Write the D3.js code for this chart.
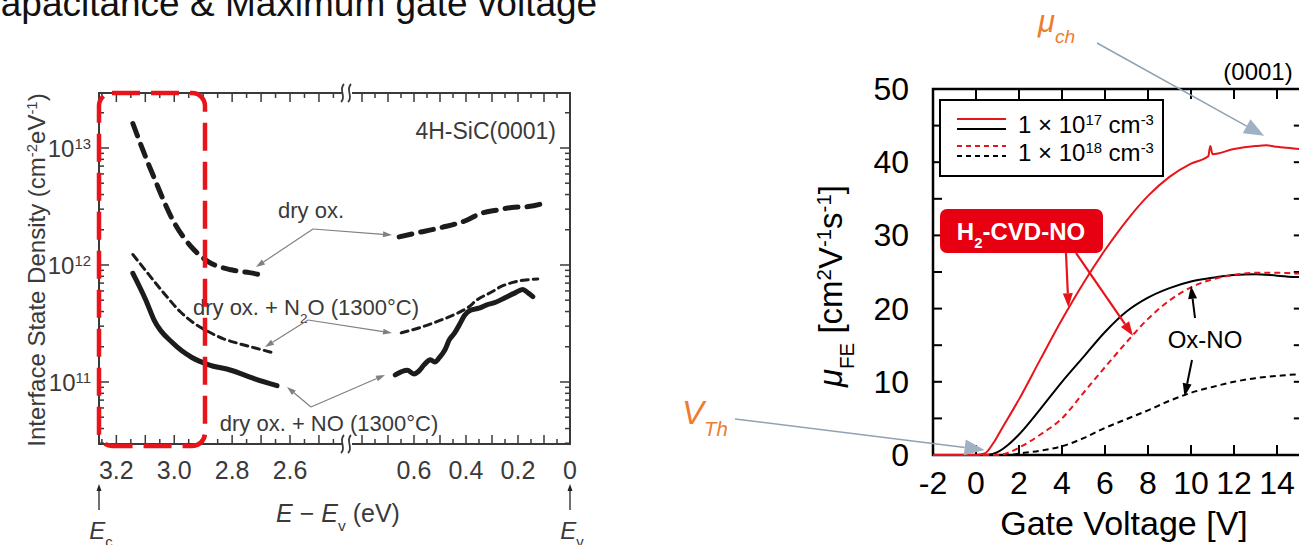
<!DOCTYPE html>
<html><head><meta charset="utf-8">
<script src="https://cdn.jsdelivr.net/npm/d3@7"></script>
<style>body{margin:0;background:#fff;} svg{display:block;font-family:"Liberation Sans",Arial,sans-serif;}</style>
</head><body><svg id="c" width="1299" height="545"></svg>
<script>
// ---------------- DATA ----------------
// Left chart: interface state density vs E - Ev (two segments of a broken axis)
const leftXTicksA = [3.2, 3.0, 2.8, 2.6];
const leftXTicksB = [0.6, 0.4, 0.2, 0];
const leftYTicks = [1e11, 1e12, 1e13];

const dryOxA_E = [3.143, 3.10, 3.07, 3.004, 2.939, 2.883, 2.804, 2.74, 2.686];
const dryOxA_D = [1.62e13, 8.5e12, 5.6e12, 2.4e12, 1.41e12, 1.07e12, 9.1e11, 8.6e11, 8.1e11];
const dryOxB_E = [0.657, 0.60, 0.495, 0.40, 0.344, 0.28, 0.224, 0.16, 0.093];
const dryOxB_D = [1.74e12, 1.86e12, 2.09e12, 2.4e12, 2.75e12, 2.95e12, 3.1e12, 3.16e12, 3.4e12];

const n2oA_E = [3.143, 3.098, 3.032, 2.98, 2.93, 2.883, 2.83, 2.78, 2.72, 2.659];
const n2oA_D = [1.23e12, 8.9e11, 5.6e11, 4.0e11, 3.16e11, 2.7e11, 2.34e11, 2.14e11, 1.95e11, 1.78e11];
const n2oB_E = [0.649, 0.57, 0.495, 0.43, 0.39, 0.359, 0.30, 0.27, 0.22, 0.18, 0.124];
const n2oB_D = [2.63e11, 2.95e11, 3.39e11, 3.9e11, 4.37e11, 5.0e11, 5.9e11, 6.46e11, 7.1e11, 7.4e11, 7.6e11];

const noA_E = [3.143, 3.098, 3.07, 3.004, 2.939, 2.883, 2.804, 2.724, 2.645];
const noA_D = [8.5e11, 5.0e11, 3.4e11, 2.14e11, 1.62e11, 1.41e11, 1.26e11, 1.07e11, 9.3e10];
const noB_E = [0.672, 0.626, 0.60, 0.583, 0.56, 0.537, 0.52, 0.502, 0.48, 0.464, 0.445, 0.425, 0.406, 0.383, 0.35, 0.32, 0.286, 0.25, 0.213, 0.182, 0.16, 0.143];
const noB_D = [1.15e11, 1.26e11, 1.17e11, 1.23e11, 1.41e11, 1.55e11, 1.48e11, 1.62e11, 1.9e11, 2.3e11, 2.6e11, 3.1e11, 3.7e11, 4.1e11, 4.27e11, 4.57e11, 4.8e11, 5.25e11, 5.75e11, 6.17e11, 5.75e11, 5.37e11];

// Right chart: field-effect mobility vs gate voltage
const rightXTicks = [-2, 0, 2, 4, 6, 8, 10, 12, 14];
const rightYTicks = [0, 10, 20, 30, 40, 50];

const redSolidV  = [-2, -1, 0, 0.4, 0.8, 1.2, 2, 3, 4, 5, 6, 7, 8, 9, 10, 10.8, 10.9, 11, 12, 13, 13.5, 14, 15, 15.2];
const redSolidMu = [0, 0, 0, 0.2, 1.6, 3.6, 7.6, 13.1, 18.5, 23.5, 28, 32, 35.4, 38, 39.8, 40.8, 42.2, 41.1, 41.8, 42.2, 42.3, 42.1, 41.8, 41.7];
const blackSolidV  = [-2, 0, 0.5, 1, 1.5, 2, 3, 4, 5, 6, 7, 8, 9, 10, 11, 12, 13, 14, 15, 15.2];
const blackSolidMu = [0, 0, 0, 0.4, 1.4, 2.8, 6.3, 10, 13.4, 16.8, 19.6, 21.5, 22.8, 23.7, 24.2, 24.6, 24.7, 24.5, 24.3, 24.3];
const redDashV  = [-2, 0, 1, 1.5, 2, 3, 4, 5, 6, 7, 8, 9, 10, 11, 12, 13, 14, 15, 15.2];
const redDashMu = [0, 0, 0, 0.3, 1, 2.8, 5, 8.5, 12, 15.4, 18.6, 21.1, 22.9, 24, 24.6, 24.9, 24.9, 24.8, 24.8];
const blackDashV  = [-2, 1, 1.5, 2, 3, 4, 5, 6, 7, 8, 9, 10, 11, 12, 13, 14, 15, 15.2];
const blackDashMu = [0, 0, 0, 0.2, 0.6, 1.2, 2.3, 3.7, 4.9, 6.1, 7.4, 8.5, 9.3, 10, 10.5, 10.8, 11, 11];

// ---------------- DRAW ----------------
const svg = d3.select('#c');
svg.append('rect').attr('width', 1299).attr('height', 545).attr('fill', '#fff');

function rich(sel, parts, size) {
  parts.forEach(p => {
    const t = sel.append('tspan').text(p.t);
    if (p.sup) t.attr('baseline-shift', 'super').attr('font-size', size * 0.62);
    if (p.sub) t.attr('baseline-shift', 'sub').attr('font-size', size * 0.62);
    if (p.it) t.attr('font-style', 'italic');
  });
  return sel;
}
function arrow(g, x1, y1, x2, y2, color, w, hl, hw, fillColor) {
  const a = Math.atan2(y2 - y1, x2 - x1);
  const bx = x2 - hl * Math.cos(a), by = y2 - hl * Math.sin(a);
  g.append('line').attr('x1', x1).attr('y1', y1).attr('x2', bx).attr('y2', by)
    .attr('stroke', color).attr('stroke-width', w);
  const px = -Math.sin(a) * hw / 2, py = Math.cos(a) * hw / 2;
  g.append('path').attr('d', `M${x2},${y2}L${bx + px},${by + py}L${bx - px},${by - py}Z`)
    .attr('fill', fillColor || color);
}

// Title (cut off at top-left, as in the slide)
svg.append('text').attr('x', -26).attr('y', 16).attr('font-size', 37).attr('fill', '#111')
  .text('Capacitance & Maximum gate voltage');

// ===== LEFT CHART =====
const L = svg.append('g');
const xA = d3.scaleLinear().domain([3.26, 2.41]).range([99, 345]);
const xB = d3.scaleLinear().domain([0.85, 0]).range([349, 570]);
const yL = d3.scaleLog().domain([Math.pow(10, 10.47), Math.pow(10, 13.47)]).range([444, 93]);
const lt = '#3a3a3a';

L.append('rect').attr('x', 99).attr('y', 93).attr('width', 471).attr('height', 351)
  .attr('fill', 'none').attr('stroke', lt).attr('stroke-width', 2);

// y ticks (log)
for (let e = 10; e <= 13; e++) {
  for (let m = 1; m <= 9; m++) {
    const v = m * Math.pow(10, e);
    if (v < yL.domain()[0] || v > yL.domain()[1]) continue;
    const len = m === 1 ? 10 : 5, y = yL(v);
    L.append('line').attr('x1', 99).attr('x2', 99 + len).attr('y1', y).attr('y2', y).attr('stroke', lt).attr('stroke-width', 1.5);
    L.append('line').attr('x1', 570).attr('x2', 570 - len).attr('y1', y).attr('y2', y).attr('stroke', lt).attr('stroke-width', 1.5);
  }
}
// x ticks
function xt(scale, from, to) {
  for (let k = Math.round(from * 20); k >= Math.round(to * 20); k--) {
    const E = k / 20, x = scale(E), len = (k % 2 === 0) ? 9 : 5;
    L.append('line').attr('x1', x).attr('x2', x).attr('y1', 444).attr('y2', 444 - len).attr('stroke', lt).attr('stroke-width', 1.5);
    L.append('line').attr('x1', x).attr('x2', x).attr('y1', 93).attr('y2', 93 + len).attr('stroke', lt).attr('stroke-width', 1.5);
  }
}
xt(xA, 3.25, 2.45);
xt(xB, 0.80, 0.05);
// axis breaks
[93, 444].forEach(y => {
  L.append('rect').attr('x', 342).attr('y', y - 3).attr('width', 10).attr('height', 6).attr('fill', '#fff');
  [341, 348].forEach(x0 => {
    L.append('path').attr('d', `M${x0},${y + 9} C${x0 + 6},${y + 4} ${x0 - 3},${y - 3} ${x0 + 3},${y - 9}`)
      .attr('fill', 'none').attr('stroke', lt).attr('stroke-width', 1.8);
  });
});

// tick labels
const tf = 25;
leftXTicksA.forEach(t => L.append('text').attr('x', xA(t)).attr('y', 479).attr('text-anchor', 'middle')
  .attr('font-size', tf).attr('fill', lt).text(t.toFixed(1)));
leftXTicksB.forEach(t => L.append('text').attr('x', xB(t)).attr('y', 479).attr('text-anchor', 'middle')
  .attr('font-size', tf).attr('fill', lt).text(t === 0 ? '0' : t.toFixed(1)));
leftYTicks.forEach(t => {
  const tx = L.append('text').attr('x', 91).attr('y', yL(t) + 9).attr('text-anchor', 'end')
    .attr('font-size', 24).attr('fill', lt);
  rich(tx, [{ t: '10' }, { t: String(Math.round(Math.log10(t))), sup: true }], 24);
});

// axis titles
rich(L.append('text').attr('transform', 'translate(45,270) rotate(-90)').attr('text-anchor', 'middle')
  .attr('font-size', 24).attr('fill', lt),
  [{ t: 'Interface State Density (cm' }, { t: '-2', sup: true }, { t: 'eV' }, { t: '-1', sup: true }, { t: ')' }], 24);
rich(L.append('text').attr('x', 338).attr('y', 522).attr('text-anchor', 'middle').attr('font-size', 25).attr('fill', lt),
  [{ t: 'E', it: true }, { t: ' \u2212 ' }, { t: 'E', it: true }, { t: 'v', sub: true }, { t: ' (eV)' }], 25);
// Ec / Ev markers
[[xA(3.26), 'c'], [xB(0), 'v']].forEach(([x, s]) => {
  arrow(L, x, 510, x, 484, '#222', 1.3, 7, 5);
  rich(L.append('text').attr('x', x + 2).attr('y', 539).attr('text-anchor', 'middle').attr('font-size', 24).attr('fill', lt),
    [{ t: 'E', it: true }, { t: s, sub: true }], 24);
});

// curves
const lineL = (sc) => d3.line().x(d => sc(d[0])).y(d => yL(d[1])).curve(d3.curveMonotoneX);
const zip = (a, b) => a.map((v, i) => [v, b[i]]);
const curveCol = '#1c1c1c';
function lcurve(sc, E, D, w, dash) {
  L.append('path').attr('d', lineL(sc)(zip(E, D))).attr('fill', 'none').attr('stroke', curveCol)
    .attr('stroke-width', w).attr('stroke-dasharray', dash).attr('stroke-linecap', 'round');
}
lcurve(xA, dryOxA_E, dryOxA_D, 5, '13,9');
lcurve(xB, dryOxB_E, dryOxB_D, 5, '13,9');
lcurve(xA, n2oA_E, n2oA_D, 3, '7,5');
lcurve(xB, n2oB_E, n2oB_D, 3, '7,5');
lcurve(xA, noA_E, noA_D, 5, null);
lcurve(xB, noB_E, noB_D, 5, null);

// labels + gray arrows
L.append('text').attr('x', 556).attr('y', 139).attr('text-anchor', 'end').attr('font-size', 23).attr('fill', lt).text('4H-SiC(0001)');
L.append('text').attr('x', 311).attr('y', 218).attr('text-anchor', 'middle').attr('font-size', 22).attr('fill', lt).text('dry ox.');
rich(L.append('text').attr('x', 306).attr('y', 315).attr('text-anchor', 'middle').attr('font-size', 22).attr('fill', lt),
  [{ t: 'dry ox. + N' }, { t: '2', sub: true }, { t: 'O (1300\u00b0C)' }], 22);
L.append('text').attr('x', 329).attr('y', 431).attr('text-anchor', 'middle').attr('font-size', 22).attr('fill', lt).text('dry ox. + NO (1300\u00b0C)');
const ga = '#808080';
const grayArrows = [
  [313, 229, 256, 267], [313, 229, 392, 235],
  [308, 320, 265, 347], [308, 320, 392, 333],
  [311, 407, 287, 387], [311, 407, 385, 375]
];
grayArrows.forEach(a => arrow(L, a[0], a[1], a[2], a[3], ga, 1.2, 9, 6));

// red dashed highlight box
L.append('rect').attr('x', 99).attr('y', 93).attr('width', 106).attr('height', 353).attr('rx', 13)
  .attr('fill', 'none').attr('stroke', '#e8141b').attr('stroke-width', 4.5).attr('stroke-dasharray', '28,11');

// ===== RIGHT CHART =====
const R = svg.append('g');
const xR = d3.scaleLinear().domain([-2, 15.2]).range([933, 1302.8]);
const yR = d3.scaleLinear().domain([0, 50]).range([455, 89]);

R.append('rect').attr('x', 933).attr('y', 89).attr('width', xR(15.2) - 933).attr('height', 455 - 89)
  .attr('fill', 'none').attr('stroke', '#000').attr('stroke-width', 2.5);
for (let v = 5; v < 50; v += 5) {
  const y = yR(v);
  R.append('line').attr('x1', 933).attr('x2', 942).attr('y1', y).attr('y2', y).attr('stroke', '#000').attr('stroke-width', 2);
  R.append('line').attr('x1', xR(15.2)).attr('x2', xR(15.2) - 9).attr('y1', y).attr('y2', y).attr('stroke', '#000').attr('stroke-width', 2);
}
rightXTicks.slice(1).forEach(t => {
  const x = xR(t);
  R.append('line').attr('x1', x).attr('x2', x).attr('y1', 455).attr('y2', 445).attr('stroke', '#000').attr('stroke-width', 2);
  R.append('line').attr('x1', x).attr('x2', x).attr('y1', 89).attr('y2', 99).attr('stroke', '#000').attr('stroke-width', 2);
});
rightXTicks.forEach(t => R.append('text').attr('x', xR(t)).attr('y', 494).attr('text-anchor', 'middle')
  .attr('font-size', 32).attr('fill', '#000').text(String(t)));
rightYTicks.forEach(t => R.append('text').attr('x', 909).attr('y', yR(t) + 11).attr('text-anchor', 'end')
  .attr('font-size', 32).attr('fill', '#000').text(String(t)));
R.append('text').attr('x', 1124).attr('y', 535).attr('text-anchor', 'middle').attr('font-size', 34).text('Gate Voltage [V]');
rich(R.append('text').attr('transform', 'translate(842,286) rotate(-90)').attr('text-anchor', 'middle').attr('font-size', 33),
  [{ t: '\u03bc', it: true }, { t: 'FE', sub: true }, { t: ' [cm' }, { t: '2', sup: true }, { t: 'V' }, { t: '-1', sup: true }, { t: 's' }, { t: '-1', sup: true }, { t: ']' }], 33);
R.append('text').attr('x', 1258).attr('y', 80).attr('text-anchor', 'middle').attr('font-size', 24).text('(0001)');

const red = '#e8141b';
const lineR = d3.line().x(d => xR(d[0])).y(d => yR(d[1])).curve(d3.curveMonotoneX);
function rcurve(V, M, col, dash) {
  R.append('path').attr('d', lineR(zip(V, M))).attr('fill', 'none').attr('stroke', col)
    .attr('stroke-width', 2).attr('stroke-dasharray', dash);
}
rcurve(blackDashV, blackDashMu, '#000', '6,4');
rcurve(blackSolidV, blackSolidMu, '#000', null);
rcurve(redDashV, redDashMu, red, '6,4');
rcurve(redSolidV, redSolidMu, red, null);

// legend
R.append('rect').attr('x', 940).attr('y', 100).attr('width', 223).attr('height', 76)
  .attr('fill', '#fff').attr('stroke', '#000').attr('stroke-width', 2);
[[119, red, null], [129, '#000', null], [146, red, '5,4'], [156, '#000', '5,4']].forEach(([y, c, d]) => {
  R.append('line').attr('x1', 957).attr('x2', 1006).attr('y1', y).attr('y2', y).attr('stroke', c).attr('stroke-width', 2).attr('stroke-dasharray', d);
});
rich(R.append('text').attr('x', 1018).attr('y', 133).attr('font-size', 24),
  [{ t: '1 \u00d7 10' }, { t: '17', sup: true }, { t: ' cm' }, { t: '-3', sup: true }], 24);
rich(R.append('text').attr('x', 1018).attr('y', 161).attr('font-size', 24),
  [{ t: '1 \u00d7 10' }, { t: '18', sup: true }, { t: ' cm' }, { t: '-3', sup: true }], 24);

// H2-CVD-NO label and arrows
R.append('rect').attr('x', 940).attr('y', 209).attr('width', 163).attr('height', 44).attr('rx', 7).attr('fill', '#e60012');
rich(R.append('text').attr('x', 1021).attr('y', 240).attr('text-anchor', 'middle').attr('font-size', 24)
  .attr('font-weight', 'bold').attr('fill', '#fff'), [{ t: 'H' }, { t: '2', sub: true }, { t: '-CVD-NO' }], 24);
arrow(R, 1066, 253, xR(4.3), yR(20.2), red, 2.2, 14, 10);
arrow(R, 1076, 253, xR(7.3), yR(16.3), red, 2.2, 14, 10);
R.append('text').attr('x', 1205).attr('y', 348).attr('text-anchor', 'middle').attr('font-size', 24).text('Ox-NO');
arrow(R, 1195, 318, xR(10), yR(23.1), '#000', 2, 13, 9);
arrow(R, 1192, 360, xR(9.7), yR(8.0), '#000', 2, 13, 9);

// ===== ANNOTATIONS (orange) =====
const orange = '#ed7d31', steel = '#8fa2b4';
rich(svg.append('text').attr('x', 1038).attr('y', 32).attr('font-size', 31).attr('fill', orange).attr('font-style', 'italic'),
  [{ t: '\u03bc' }, { t: 'ch', sub: true }], 31);
arrow(svg, 1097, 43, xR(13.4), yR(43.6), steel, 1.5, 20, 16, '#9fb1c2');
rich(svg.append('text').attr('x', 682).attr('y', 424).attr('font-size', 33).attr('fill', orange).attr('font-style', 'italic'),
  [{ t: 'V' }, { t: 'Th', sub: true }], 33);
arrow(svg, 735, 419, xR(0.4), yR(0.7), steel, 1.5, 20, 16, '#9fb1c2');
</script></body></html>
